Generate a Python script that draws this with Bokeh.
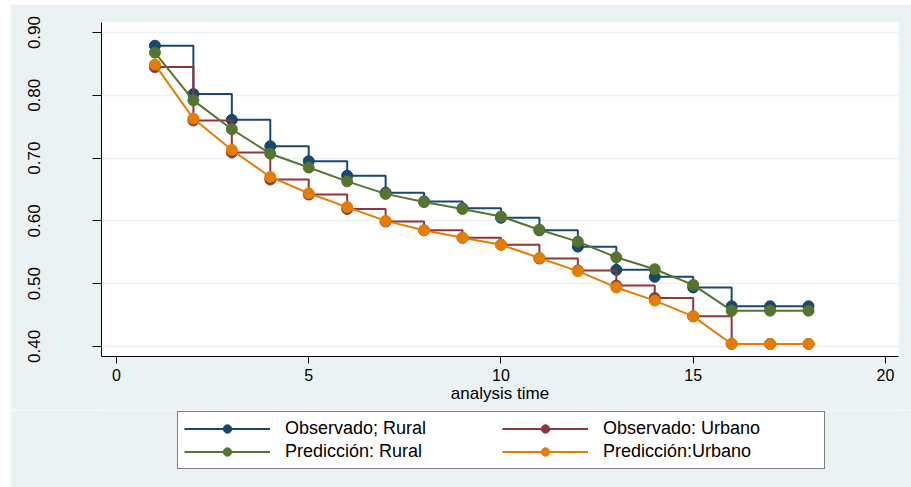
from bokeh.plotting import figure
from bokeh.layouts import column
from bokeh.models import FixedTicker, PrintfTickFormatter, Legend, LegendItem, Range1d
from bokeh.embed import file_html
from bokeh.resources import INLINE

# ---- data ----
time = list(range(1, 19))
obs_rural = [0.879, 0.802, 0.761, 0.719, 0.695, 0.672, 0.645, 0.631, 0.620, 0.605,
             0.585, 0.559, 0.522, 0.511, 0.494, 0.464, 0.464, 0.464]
obs_urbano = [0.845, 0.760, 0.709, 0.666, 0.642, 0.619, 0.599, 0.585, 0.573, 0.562,
              0.540, 0.521, 0.497, 0.477, 0.448, 0.404, 0.404, 0.404]
pred_rural = [0.868, 0.792, 0.746, 0.707, 0.685, 0.663, 0.643, 0.630, 0.619, 0.607,
              0.586, 0.567, 0.542, 0.523, 0.498, 0.457, 0.457, 0.457]
pred_urbano = [0.849, 0.763, 0.713, 0.670, 0.644, 0.622, 0.600, 0.585, 0.573, 0.562,
               0.541, 0.520, 0.494, 0.473, 0.448, 0.404, 0.404, 0.404]
labels = ["Observado; Rural", "Observado: Urbano", "Predicción: Rural", "Predicción:Urbano"]
x_ticks = [0, 5, 10, 15, 20]
y_ticks = [0.40, 0.50, 0.60, 0.70, 0.80, 0.90]
x_label = "analysis time"

colors = ["#1A476F", "#90353B", "#55752F", "#E37E00"]
FONT = "Liberation Sans"
BG = "#EAF2F3"

H1 = 406
p = figure(width=901, height=H1, output_backend="svg", toolbar_location=None,
           x_range=Range1d(-0.39, 20.34), y_range=Range1d(0.384, 0.916),
           min_border_left=91, min_border_right=13, min_border_top=18,
           min_border_bottom=54)
p.background_fill_color = "white"
p.border_fill_color = BG
p.outline_line_color = None

# legend host figure (its frame is aligned with the main frame by the column)
q = figure(width=901, height=483 - H1, output_backend="svg", toolbar_location=None,
           x_range=Range1d(0, 1), y_range=Range1d(0, 1),
           min_border_left=91, min_border_right=13, min_border_top=0, min_border_bottom=0)
q.axis.visible = False
q.grid.visible = False
q.background_fill_color = BG
q.border_fill_color = BG
q.outline_line_color = None

series = [
    (obs_rural, colors[0], labels[0], "step"),
    (obs_urbano, colors[1], labels[1], "step"),
    (pred_rural, colors[2], labels[2], "line"),
    (pred_urbano, colors[3], labels[3], "line"),
]
items = {}
for ys, c, lab, kind in series:
    if kind == "step":
        p.step(time, ys, mode="after", line_color=c, line_width=2)
    else:
        p.line(time, ys, line_color=c, line_width=2)
    p.scatter(time, ys, marker="circle", size=11, fill_color=c, line_color=c)
    # legend proxies placed outside the legend figure's visible range
    l1 = q.line([-10, -9], [-10, -10], line_color=c, line_width=2)
    l2 = q.scatter([-10], [-10], marker="circle", size=9, fill_color=c, line_color=c)
    items[lab] = LegendItem(label=lab, renderers=[l1, l2])

# axes
p.xaxis.ticker = FixedTicker(ticks=x_ticks)
p.yaxis.ticker = FixedTicker(ticks=y_ticks)
p.yaxis.formatter = PrintfTickFormatter(format="%.2f")
p.yaxis.major_label_orientation = "vertical"
for ax in (p.xaxis, p.yaxis):
    ax.axis_line_color = "black"
    ax.axis_line_width = 1
    ax.major_tick_line_color = "black"
    ax.minor_tick_line_color = None
    ax.major_label_text_font = FONT
    ax.major_label_text_color = "black"
p.yaxis.major_tick_out = 9
p.yaxis.major_tick_in = 0
p.yaxis.major_label_standoff = 52
p.yaxis.major_label_text_font_size = "17px"
p.xaxis.major_tick_out = 7
p.xaxis.major_tick_in = 0
p.xaxis.major_label_standoff = 5
p.xaxis.major_label_text_font_size = "16px"
p.xaxis.axis_label = x_label
p.xaxis.axis_label_text_font = FONT
p.xaxis.axis_label_text_font_size = "17px"
p.xaxis.axis_label_text_font_style = "normal"
p.xaxis.axis_label_text_color = "black"
p.xaxis.axis_label_standoff = 0

p.xgrid.grid_line_color = None
p.ygrid.grid_line_color = BG
p.ygrid.grid_line_width = 1.5

order = [labels[0], labels[2], labels[1], labels[3]]
legend = Legend(items=[items[k] for k in order], ncols=2,
                location=(76, (483 - H1) - 59))
legend.glyph_width = 86
legend.glyph_height = 21
legend.label_width = 215
legend.label_height = 21
legend.spacing = 2
legend.padding = 6
legend.label_standoff = 15
legend.margin = 0
legend.border_line_color = "black"
legend.border_line_width = 1
legend.background_fill_color = "white"
legend.background_fill_alpha = 1
legend.label_text_font = FONT
legend.label_text_font_size = "18px"
legend.label_text_color = "black"
q.add_layout(legend, "center")

layout = column(p, q, spacing=0)
layout.margin = (4, 0, 0, 10)
open("out.html", "w").write(file_html(layout, INLINE))
